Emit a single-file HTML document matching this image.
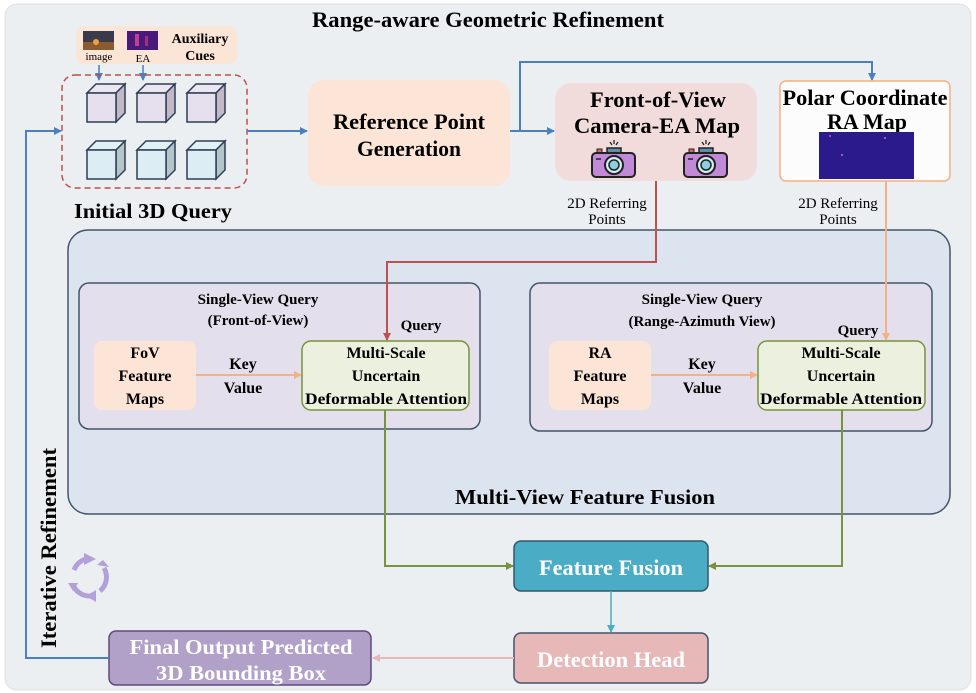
<!DOCTYPE html>
<html><head><meta charset="utf-8"><style>
html,body{margin:0;padding:0;background:#fff;}
svg{display:block;}
text{font-family:"Liberation Serif",serif;}
.b{font-weight:bold;}
</style></head><body>
<svg width="976" height="693" viewBox="0 0 976 693" xmlns="http://www.w3.org/2000/svg">
<defs>
<marker id="ab" markerWidth="8" markerHeight="8" refX="7" refY="4" orient="auto" markerUnits="userSpaceOnUse"><path d="M0,0 L8,4 L0,8 Z" fill="#4a7fc1"/></marker>
<marker id="ar" markerWidth="8" markerHeight="8" refX="7" refY="4" orient="auto" markerUnits="userSpaceOnUse"><path d="M0,0 L8,4 L0,8 Z" fill="#c0504d"/></marker>
<marker id="ao" markerWidth="8" markerHeight="8" refX="7" refY="4" orient="auto" markerUnits="userSpaceOnUse"><path d="M0,0 L8,4 L0,8 Z" fill="#f4b183"/></marker>
<marker id="ag" markerWidth="8" markerHeight="8" refX="7" refY="4" orient="auto" markerUnits="userSpaceOnUse"><path d="M0,0 L8,4 L0,8 Z" fill="#77933c"/></marker>
<marker id="ac" markerWidth="8" markerHeight="8" refX="7" refY="4" orient="auto" markerUnits="userSpaceOnUse"><path d="M0,0 L8,4 L0,8 Z" fill="#4bacc6"/></marker>
<marker id="ap" markerWidth="8" markerHeight="8" refX="7" refY="4" orient="auto" markerUnits="userSpaceOnUse"><path d="M0,0 L8,4 L0,8 Z" fill="#e6b9b8"/></marker>
<g id="cubeA"><path d="M0,9 L9,0 L38,0 L29,9 Z" fill="#ece6f2" stroke="#2e3e55" stroke-width="1.5"/><path d="M29,9 L38,0 L38,29 L29,38 Z" fill="#c2b8c8" stroke="#2e3e55" stroke-width="1.5"/><rect x="0" y="9" width="29" height="29" fill="#e6dfee" stroke="#2e3e55" stroke-width="1.5"/></g>
<g id="cubeB"><path d="M0,9 L9,0 L38,0 L29,9 Z" fill="#e2f1f5" stroke="#2e3e55" stroke-width="1.5"/><path d="M29,9 L38,0 L38,29 L29,38 Z" fill="#b4c6ca" stroke="#2e3e55" stroke-width="1.5"/><rect x="0" y="9" width="29" height="29" fill="#dceef4" stroke="#2e3e55" stroke-width="1.5"/></g>
<g id="cam"><rect x="15" y="3" width="14" height="7" fill="#5f8fa8" stroke="#222" stroke-width="1.5"/><rect x="5" y="4" width="5" height="4" fill="#e06070" stroke="#222" stroke-width="1"/><rect x="0" y="8" width="43" height="24" rx="4" fill="#c08ad8" stroke="#222" stroke-width="2"/><circle cx="22" cy="20" r="9" fill="#d6eef5" stroke="#222" stroke-width="2"/><circle cx="22" cy="20" r="5" fill="#8ccfe0" stroke="#222" stroke-width="1.5"/><line x1="4" y1="14" x2="9" y2="14" stroke="#222" stroke-width="1.5"/><path d="M18,-3 L20,0 M22,-5 L22,-1 M26,-3 L24,0" stroke="#222" stroke-width="1.3"/></g>
</defs>
<rect x="0" y="0" width="976" height="693" fill="#fff"/>
<rect x="5" y="4" width="966" height="686" rx="12" fill="#ebeff1" stroke="#dde2e5"/>
<text x="488" y="27" text-anchor="middle" class="b" font-size="22" textLength="352" lengthAdjust="spacingAndGlyphs">Range-aware Geometric Refinement</text>

<!-- aux cues -->
<rect x="76" y="26" width="161" height="38" rx="8" fill="#fbe5d6"/>
<rect x="83" y="31" width="31" height="19" fill="#3a3a4a"/><rect x="83" y="42" width="31" height="8" fill="#8a5a30"/><circle cx="96" cy="42" r="3" fill="#f0a040"/>
<rect x="127" y="31" width="31" height="19" fill="#4a1a7a"/><rect x="135" y="34" width="4" height="12" fill="#c04090"/><rect x="145" y="36" width="3" height="10" fill="#a03080"/>
<text x="99" y="60" text-anchor="middle" font-size="11">image</text>
<text x="143" y="62" text-anchor="middle" font-size="11">EA</text>
<text x="200" y="43" text-anchor="middle" class="b" font-size="14">Auxiliary</text>
<text x="200" y="60" text-anchor="middle" class="b" font-size="14">Cues</text>
<line x1="99" y1="65" x2="99" y2="80" stroke="#4a7fc1" stroke-width="1.5" marker-end="url(#ab)"/>
<line x1="143" y1="65" x2="143" y2="80" stroke="#4a7fc1" stroke-width="1.5" marker-end="url(#ab)"/>
<rect x="62" y="75" width="185" height="113" rx="13" fill="none" stroke="#c0504d" stroke-width="1.5" stroke-dasharray="6,4"/>
<use href="#cubeA" x="87" y="84"/><use href="#cubeA" x="137" y="84"/><use href="#cubeA" x="187" y="84"/>
<use href="#cubeB" x="87" y="141"/><use href="#cubeB" x="137" y="141"/><use href="#cubeB" x="187" y="141"/>
<text x="153" y="218" text-anchor="middle" class="b" font-size="21" textLength="158" lengthAdjust="spacingAndGlyphs">Initial 3D Query</text>

<!-- ref point -->
<line x1="247" y1="131" x2="307" y2="131" stroke="#4a7fc1" stroke-width="2" marker-end="url(#ab)"/>
<rect x="308" y="80" width="202" height="106" rx="16" fill="#fce4d6"/>
<text x="409" y="129" text-anchor="middle" class="b" font-size="22" textLength="152" lengthAdjust="spacingAndGlyphs">Reference Point</text>
<text x="409" y="156" text-anchor="middle" class="b" font-size="22" textLength="104" lengthAdjust="spacingAndGlyphs">Generation</text>
<line x1="510" y1="131" x2="554" y2="131" stroke="#4a7fc1" stroke-width="2" marker-end="url(#ab)"/>
<polyline points="520,131 520,62 872,62 872,80" fill="none" stroke="#4a7fc1" stroke-width="2" marker-end="url(#ab)"/>

<!-- FoV -->
<rect x="555" y="83" width="202" height="98" rx="16" fill="#f2dcdb"/>
<text x="658" y="107" text-anchor="middle" class="b" font-size="22" textLength="136" lengthAdjust="spacingAndGlyphs">Front-of-View</text>
<text x="657" y="133" text-anchor="middle" class="b" font-size="22" textLength="166" lengthAdjust="spacingAndGlyphs">Camera-EA Map</text>
<use href="#cam" x="592" y="145"/><use href="#cam" x="684" y="145"/>

<!-- polar -->
<rect x="780" y="81" width="170" height="100" rx="6" fill="#fcfcfc" stroke="#f4b183" stroke-width="1.5"/>
<text x="865" y="105" text-anchor="middle" class="b" font-size="22" textLength="165" lengthAdjust="spacingAndGlyphs">Polar Coordinate</text>
<text x="867" y="129" text-anchor="middle" class="b" font-size="22" textLength="80" lengthAdjust="spacingAndGlyphs">RA Map</text>
<rect x="819" y="132" width="95" height="47" fill="#2a1a8c"/>
<circle cx="842" cy="155" r="1" fill="#e070a0"/><circle cx="885" cy="138" r="1" fill="#e070a0"/><circle cx="830" cy="136" r="1" fill="#c060a0"/>

<text x="607" y="208" text-anchor="middle" font-size="15">2D Referring</text>
<text x="607" y="224" text-anchor="middle" font-size="15">Points</text>
<text x="838" y="208" text-anchor="middle" font-size="15">2D Referring</text>
<text x="838" y="224" text-anchor="middle" font-size="15">Points</text>

<!-- multi-view panel -->
<rect x="68" y="230" width="882" height="284" rx="20" fill="#dce4ef" stroke="#44546a" stroke-width="1.5"/>
<text x="585" y="504" text-anchor="middle" class="b" font-size="21" textLength="260" lengthAdjust="spacingAndGlyphs">Multi-View Feature Fusion</text>

<rect x="79" y="283" width="401" height="146" rx="10" fill="#e4dfec" stroke="#44546a" stroke-width="1.5"/>
<text x="258" y="304" text-anchor="middle" class="b" font-size="15">Single-View Query</text>
<text x="258" y="325" text-anchor="middle" class="b" font-size="15">(Front-of-View)</text>
<text x="421" y="330" text-anchor="middle" class="b" font-size="15">Query</text>
<rect x="94" y="341" width="102" height="69" rx="8" fill="#fce4d6"/>
<text x="145" y="358" text-anchor="middle" class="b" font-size="16">FoV</text>
<text x="145" y="381" text-anchor="middle" class="b" font-size="16">Feature</text>
<text x="145" y="404" text-anchor="middle" class="b" font-size="16">Maps</text>
<text x="243" y="369" text-anchor="middle" class="b" font-size="16">Key</text>
<text x="243" y="393" text-anchor="middle" class="b" font-size="16">Value</text>
<line x1="196" y1="375" x2="301" y2="375" stroke="#f4b183" stroke-width="2" marker-end="url(#ao)"/>
<rect x="302" y="341" width="167" height="69" rx="9" fill="#ebf1de" stroke="#77933c" stroke-width="1.5"/>
<text x="386" y="358" text-anchor="middle" class="b" font-size="16">Multi-Scale</text>
<text x="386" y="381" text-anchor="middle" class="b" font-size="16">Uncertain</text>
<text x="386" y="404" text-anchor="middle" class="b" font-size="16" textLength="162" lengthAdjust="spacingAndGlyphs">Deformable Attention</text>

<rect x="530" y="283" width="402" height="148" rx="10" fill="#e4dfec" stroke="#44546a" stroke-width="1.5"/>
<text x="702" y="304" text-anchor="middle" class="b" font-size="15">Single-View Query</text>
<text x="702" y="326" text-anchor="middle" class="b" font-size="15">(Range-Azimuth View)</text>
<text x="858" y="335" text-anchor="middle" class="b" font-size="15">Query</text>
<rect x="549" y="341" width="102" height="69" rx="8" fill="#fce4d6"/>
<text x="600" y="358" text-anchor="middle" class="b" font-size="16">RA</text>
<text x="600" y="381" text-anchor="middle" class="b" font-size="16">Feature</text>
<text x="600" y="404" text-anchor="middle" class="b" font-size="16">Maps</text>
<text x="702" y="369" text-anchor="middle" class="b" font-size="16">Key</text>
<text x="702" y="393" text-anchor="middle" class="b" font-size="16">Value</text>
<line x1="651" y1="375" x2="757" y2="375" stroke="#f4b183" stroke-width="2" marker-end="url(#ao)"/>
<rect x="758" y="341" width="167" height="69" rx="9" fill="#ebf1de" stroke="#77933c" stroke-width="1.5"/>
<text x="841" y="358" text-anchor="middle" class="b" font-size="16">Multi-Scale</text>
<text x="841" y="381" text-anchor="middle" class="b" font-size="16">Uncertain</text>
<text x="841" y="404" text-anchor="middle" class="b" font-size="16" textLength="162" lengthAdjust="spacingAndGlyphs">Deformable Attention</text>

<!-- referring lines -->
<polyline points="656,181 656,262 387,262 387,340" fill="none" stroke="#c0504d" stroke-width="2" marker-end="url(#ar)"/>
<polyline points="886,181 886,340" fill="none" stroke="#f4b183" stroke-width="2" marker-end="url(#ao)"/>

<!-- green -->
<polyline points="385,410 385,566 513,566" fill="none" stroke="#77933c" stroke-width="2" marker-end="url(#ag)"/>
<polyline points="842,410 842,566 709,566" fill="none" stroke="#77933c" stroke-width="2" marker-end="url(#ag)"/>

<rect x="514" y="541" width="194" height="50" rx="7" fill="#4bacc6" stroke="#31576b" stroke-width="1.5"/>
<text x="611" y="575" text-anchor="middle" class="b" font-size="22" fill="#fff" textLength="144" lengthAdjust="spacingAndGlyphs">Feature Fusion</text>
<line x1="611" y1="591" x2="611" y2="632" stroke="#4bacc6" stroke-width="1.5" marker-end="url(#ac)"/>
<rect x="514" y="633" width="194" height="50" rx="7" fill="#e6b9b8" stroke="#44546a" stroke-width="1.5"/>
<text x="611" y="667" text-anchor="middle" class="b" font-size="22" fill="#fff" textLength="148" lengthAdjust="spacingAndGlyphs">Detection Head</text>
<line x1="514" y1="658" x2="373" y2="658" stroke="#e6b9b8" stroke-width="2" marker-end="url(#ap)"/>
<rect x="109" y="631" width="262" height="54" rx="7" fill="#b1a0c7" stroke="#604a7b" stroke-width="1.5"/>
<text x="241" y="654" text-anchor="middle" class="b" font-size="21" fill="#fff" textLength="223" lengthAdjust="spacingAndGlyphs">Final Output Predicted</text>
<text x="241" y="680" text-anchor="middle" class="b" font-size="21" fill="#fff" textLength="170" lengthAdjust="spacingAndGlyphs">3D Bounding Box</text>
<polyline points="109,658 26,658 26,131 61,131" fill="none" stroke="#4a7fc1" stroke-width="2" marker-end="url(#ab)"/>

<text transform="translate(56,548) rotate(-90)" text-anchor="middle" class="b" font-size="22" textLength="200" lengthAdjust="spacingAndGlyphs">Iterative Refinement</text>
<g fill="none" stroke="#b4a0d8" stroke-width="5">
<path d="M74,570 A18,18 0 0 1 86,559"/><path d="M104,568 A18,18 0 0 1 100,591"/><path d="M91,596 A18,18 0 0 1 73,585"/>
</g>
<g fill="#b4a0d8"><path d="M84,553 L96,559 L84,565 Z"/><path d="M97,565 L103,560 L109,567 Z"/><path d="M96,590 L96,602 L86,596 Z"/><path d="M68,583 L78,583 L73,591 Z"/></g>
</svg>
</body></html>
